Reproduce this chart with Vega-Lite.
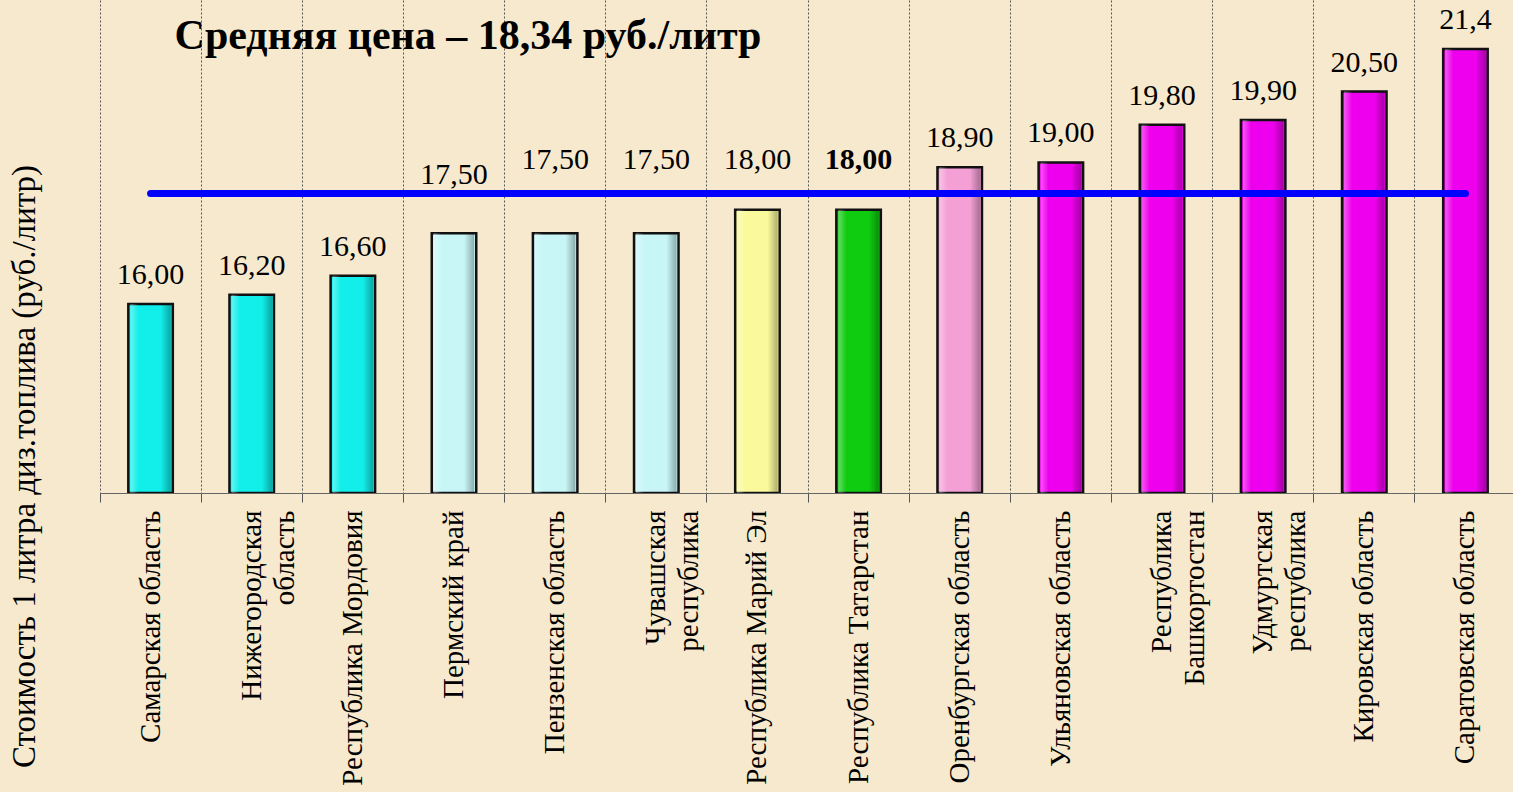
{
  "$schema": "https://vega.github.io/schema/vega-lite/v6.json",
  "width": 1416,
  "height": 493,
  "autosize": "none",
  "padding": {"left": 100, "top": 0, "right": 0, "bottom": 299},
  "background": "#F6E9CE",
  "config": {"view": {"stroke": null}, "font": "Liberation Serif"},
  "data": {
    "values": [
      {"region": "Самарская область", "value": 16.0, "label": "16,00", "grp": "g1"},
      {"region": "Нижегородская|область", "value": 16.2, "label": "16,20", "grp": "g1"},
      {"region": "Республика Мордовия", "value": 16.6, "label": "16,60", "grp": "g1"},
      {"region": "Пермский край", "value": 17.5, "label": "17,50", "grp": "g2"},
      {"region": "Пензенская область", "value": 17.5, "label": "17,50", "grp": "g2"},
      {"region": "Чувашская|республика", "value": 17.5, "label": "17,50", "grp": "g2"},
      {"region": "Республика Марий Эл", "value": 18.0, "label": "18,00", "grp": "g3"},
      {"region": "Республика  Татарстан", "value": 18.0, "label": "18,00", "grp": "g4"},
      {"region": "Оренбургская область", "value": 18.9, "label": "18,90", "grp": "g5"},
      {"region": "Ульяновская область", "value": 19.0, "label": "19,00", "grp": "g6"},
      {"region": "Республика|Башкортостан", "value": 19.8, "label": "19,80", "grp": "g6"},
      {"region": "Удмуртская|республика", "value": 19.9, "label": "19,90", "grp": "g6"},
      {"region": "Кировская область", "value": 20.5, "label": "20,50", "grp": "g6"},
      {"region": "Саратовская область", "value": 21.4, "label": "21,4", "grp": "g6"}
    ]
  },
  "encoding": {
    "x": {
      "field": "region",
      "type": "nominal",
      "sort": null,
      "scale": {"paddingInner": 0, "paddingOuter": 0},
      "axis": {
        "title": null,
        "labelExpr": "split(datum.value, '|')",
        "labelAngle": -90,
        "labelAlign": "right",
        "labelBaseline": "middle",
        "labelFont": "Liberation Serif",
        "labelFontSize": 29,
        "labelLineHeight": 33,
        "labelColor": "#000000",
        "labelPadding": 8,
        "labelLimit": 400,
        "bandPosition": 0,
        "tickSize": 9,
        "tickColor": "#555555",
        "domainColor": "#666666",
        "grid": true,
        "gridColor": "#555555",
        "gridDash": [2, 2],
        "gridWidth": 1,
        "labelOverlap": false
      }
    },
    "y": {
      "field": "value",
      "type": "quantitative",
      "scale": {"domain": [12, 22.44], "zero": false, "nice": false},
      "axis": {
        "title": "Стоимость  1 литра диз.топлива  (руб./литр)",
        "titleFont": "Liberation Serif",
        "titleFontSize": 33,
        "titleFontWeight": "normal",
        "titleColor": "#000000",
        "titleAngle": -90,
        "titleX": -76,
        "titleY": 466,
        "titleAlign": "center",
        "titleBaseline": "middle",
        "labels": false,
        "ticks": false,
        "domain": false,
        "grid": false
      }
    }
  },
  "layer": [
    {
      "mark": {"type": "bar", "clip": true, "width": {"band": 0.44}, "stroke": "#111111", "strokeWidth": 2.5},
      "encoding": {
        "y2": {"datum": 12},
        "color": {
          "field": "grp",
          "type": "nominal",
          "legend": null,
          "scale": {
            "domain": ["g1", "g2", "g3", "g4", "g5", "g6"],
            "range": ["#12EEEA", "#C8F6F6", "#FAFA9C", "#10CC10", "#F4A0D6", "#EE00EE"]
          }
        }
      }
    },
    {
      "mark": {
        "type": "bar",
        "clip": true,
        "width": {"band": 0.4},
        "fill": {
          "gradient": "linear",
          "x1": 0, "x2": 1, "y1": 0, "y2": 0,
          "stops": [
            {"offset": 0, "color": "rgba(255,255,255,0.35)"},
            {"offset": 0.2, "color": "rgba(255,255,255,0)"},
            {"offset": 0.75, "color": "rgba(0,0,0,0)"},
            {"offset": 1, "color": "rgba(0,0,0,0.3)"}
          ]
        }
      },
      "encoding": {"y2": {"datum": 12}}
    },
    {
      "data": {"values": [{"start": "Самарская область", "end": "Саратовская область", "avg": 18.34}]},
      "mark": {"type": "rule", "color": "#0000FF", "strokeWidth": 7, "strokeCap": "round"},
      "encoding": {
        "x": {"field": "start", "type": "nominal"},
        "x2": {"field": "end"},
        "y": {"field": "avg", "type": "quantitative"}
      }
    },
    {
      "transform": [{"filter": "datum.value < 17.4 || datum.value > 18.2"}],
      "mark": {"type": "text", "font": "Liberation Serif", "fontSize": 30, "color": "#000000", "baseline": "middle", "dy": -29},
      "encoding": {"text": {"field": "label"}}
    },
    {
      "transform": [{"filter": "datum.region === 'Пермский край'"}],
      "mark": {"type": "text", "font": "Liberation Serif", "fontSize": 30, "color": "#000000", "baseline": "middle"},
      "encoding": {"text": {"field": "label"}, "y": {"datum": 18.73, "type": "quantitative"}}
    },
    {
      "transform": [{"filter": "datum.value >= 17.4 && datum.value <= 18.2 && datum.region !== 'Пермский край' && datum.grp !== 'g4'"}],
      "mark": {"type": "text", "font": "Liberation Serif", "fontSize": 30, "color": "#000000", "baseline": "middle"},
      "encoding": {"text": {"field": "label"}, "y": {"datum": 19.05, "type": "quantitative"}}
    },
    {
      "transform": [{"filter": "datum.grp === 'g4'"}],
      "mark": {"type": "text", "font": "Liberation Serif", "fontSize": 30, "fontWeight": "bold", "color": "#000000", "baseline": "middle"},
      "encoding": {"text": {"field": "label"}, "y": {"datum": 19.05, "type": "quantitative"}}
    },
    {
      "data": {"values": [{"anchor": "Самарская область", "pos": 21.4, "title": "Средняя цена – 18,34 руб./литр"}]},
      "mark": {"type": "text", "font": "Liberation Serif", "fontSize": 42, "fontWeight": "bold", "color": "#000000", "align": "left", "baseline": "alphabetic", "dx": 24},
      "encoding": {
        "x": {"field": "anchor", "type": "nominal"},
        "y": {"field": "pos", "type": "quantitative"},
        "text": {"field": "title"}
      }
    }
  ]
}
